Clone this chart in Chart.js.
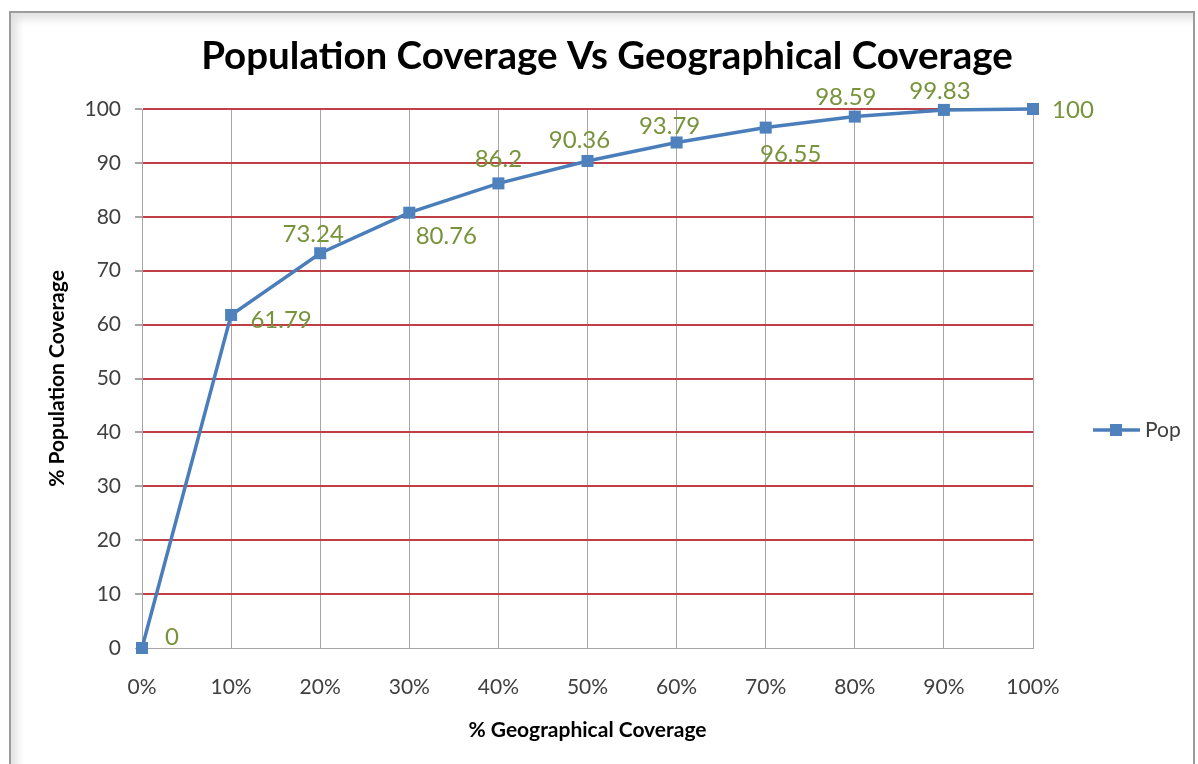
<!DOCTYPE html>
<html>
<head>
<meta charset="utf-8">
<script src="https://cdn.jsdelivr.net/npm/chart.js@4.4.0/dist/chart.umd.min.js"></script>
<style>
  html, body { margin: 0; padding: 0; background: #fff; overflow: hidden; }
  #frame {
    position: absolute; left: 9px; top: 11px; width: 1182px; height: 800px;
    border: 2px solid #9c9c9c; box-shadow: inset 6px 6px 8px rgba(0,0,0,0.12);
  }
  #wrap { position: absolute; left: 0; top: 0; width: 1198px; height: 764px; }
</style>
</head>
<body>
<div id="frame"></div>
<div id="wrap"><canvas id="coverageChart" width="1198" height="764"></canvas></div>
<script>
const geoLabels = ['0%', '10%', '20%', '30%', '40%', '50%', '60%', '70%', '80%', '90%', '100%'];
const popValues = [0, 61.79, 73.24, 80.76, 86.2, 90.36, 93.79, 96.55, 98.59, 99.83, 100];
const yTicks = [0, 10, 20, 30, 40, 50, 60, 70, 80, 90, 100];
const seriesName = 'Pop';

const azulLinha = '#4A7EBB';
const azulPonto = '#4F81BD';
const verdeRotulo = '#77933C';
const vermelhoGrade = '#BF3F45';
const cinzaGrade = '#A6A6A6';
const corTexto = '#404040';
const fonte = 'Lato, "Open Sans", sans-serif';

// deslocamento de cada rótulo em relação ao ponto (como no Excel)
const rotuloOffset = [[30, -11], [50, 5], [-7, -19], [37, 24], [0, -24], [-8, -21],
                      [-7, -16], [25, 27], [-9, -19], [-4, -19], [40, 1]];

const rotulosPlugin = {
  id: 'rotulos',
  afterDatasetsDraw(chart) {
    const c = chart.ctx;
    const meta = chart.getDatasetMeta(0);
    c.save();
    c.font = '24px ' + fonte;
    c.fillStyle = verdeRotulo;
    c.textAlign = 'center';
    c.textBaseline = 'middle';
    meta.data.forEach((pt, i) => {
      const off = rotuloOffset[i] || [0, -20];
      c.fillText(String(popValues[i]), pt.x + off[0], pt.y + off[1]);
    });
    c.restore();
  }
};

const extrasPlugin = {
  id: 'extras',
  afterDraw(chart) {
    const c = chart.ctx;
    c.save();
    // titulo
    c.font = 'bold 38.5px ' + fonte;
    c.fillStyle = '#000';
    c.textAlign = 'center';
    c.textBaseline = 'middle';
    c.fillText('Population Coverage Vs Geographical Coverage', 607, 57);
    // legenda
    const ly = 430;
    c.strokeStyle = azulLinha;
    c.lineWidth = 3.5;
    c.beginPath();
    c.moveTo(1093, ly);
    c.lineTo(1140, ly);
    c.stroke();
    c.fillStyle = azulPonto;
    c.fillRect(1110, ly - 6, 12, 12);
    c.font = '21px ' + fonte;
    c.fillStyle = corTexto;
    c.textAlign = 'left';
    c.fillText(seriesName, 1145, ly);
    c.restore();
  }
};

const ctx = document.getElementById('coverageChart');

new Chart(ctx, {
  type: 'line',
  data: {
    labels: geoLabels,
    datasets: [{
      label: seriesName,
      data: popValues,
      borderColor: azulLinha,
      borderWidth: 3.5,
      backgroundColor: azulPonto,
      pointStyle: 'rect',
      pointRadius: 8.5,
      pointBorderWidth: 0,
      tension: 0,
      clip: false
    }]
  },
  options: {
    responsive: false,
    animation: false,
    layout: { padding: { left: 0, top: 109, right: 165, bottom: 0 } },
    plugins: {
      legend: { display: false },
      title: { display: false },
      tooltip: { enabled: false }
    },
    scales: {
      x: {
        type: 'category',
        offset: false,
        afterFit(scale) { scale.height = 116; },
        ticks: { color: corTexto, font: { family: fonte, size: 21 }, padding: 27, maxRotation: 0 },
        grid: { color: cinzaGrade, lineWidth: 1, tickLength: 0, drawTicks: false },
        border: { color: cinzaGrade, width: 1 },
        title: {
          display: true,
          text: '% Geographical Coverage',
          color: '#000',
          font: { family: fonte, size: 21, weight: 'bold' },
          padding: { top: 0, bottom: 21 }
        }
      },
      y: {
        min: 0,
        max: 100,
        afterFit(scale) { scale.width = 142; },
        afterBuildTicks(scale) { scale.ticks = yTicks.map(v => ({ value: v })); },
        ticks: { color: corTexto, font: { family: fonte, size: 21 }, padding: 14 },
        grid: {
          color: (g) => (g.tick && g.tick.value === 0 ? cinzaGrade : vermelhoGrade),
          lineWidth: (g) => (g.tick && g.tick.value === 0 ? 1 : 2),
          tickColor: cinzaGrade,
          tickLength: 7
        },
        border: { color: cinzaGrade, width: 1 },
        title: {
          display: true,
          text: '% Population Coverage',
          color: '#000',
          font: { family: fonte, size: 21, weight: 'bold' },
          padding: { top: 45, bottom: 0 }
        }
      }
    }
  },
  plugins: [rotulosPlugin, extrasPlugin]
});
</script>
</body>
</html>
